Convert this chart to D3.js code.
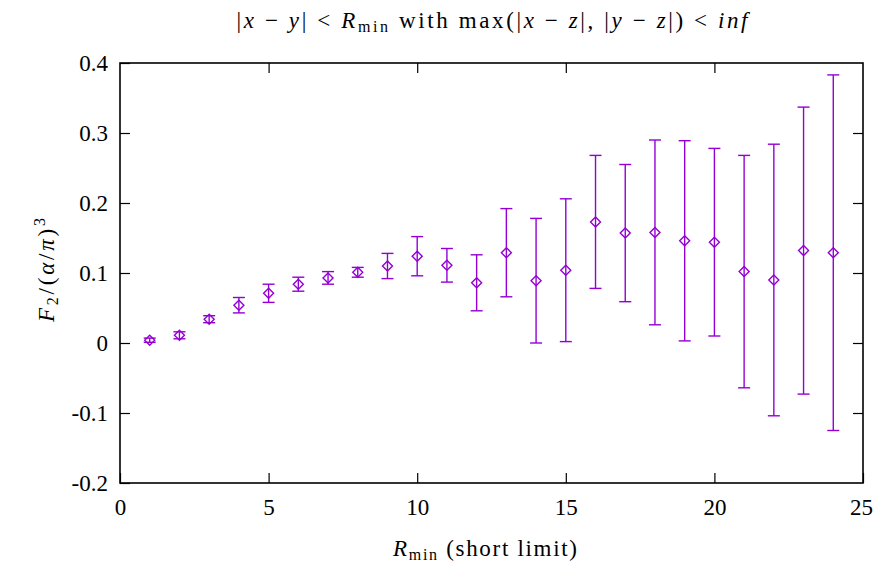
<!DOCTYPE html>
<html>
<head>
<meta charset="utf-8">
<script src="https://cdn.jsdelivr.net/npm/d3@7"></script>
<style>
  body { margin: 0; background: #fff; }
  svg { display: block; font-family: "Liberation Serif", "DejaVu Serif", serif; }
</style>
</head>
<body>
<svg id="chart" width="873" height="566"></svg>
<script>
const rmin = [1, 2, 3, 4, 5, 6, 7, 8, 9, 10, 11, 12, 13, 14, 15, 16, 17, 18, 19, 20, 21, 22, 23, 24]
const f2 = [0.004, 0.011, 0.034, 0.054, 0.071, 0.084, 0.093, 0.101, 0.110, 0.124, 0.111, 0.086,
  0.129, 0.089, 0.104, 0.173, 0.157, 0.158, 0.146, 0.144, 0.102, 0.090, 0.132, 0.129]
const f2err = [0.003, 0.005, 0.005, 0.011, 0.013, 0.010, 0.009, 0.007, 0.018, 0.028, 0.024, 0.040,
  0.063, 0.089, 0.102, 0.095, 0.098, 0.132, 0.143, 0.134, 0.166, 0.194, 0.205, 0.254]
const xTicks = [0, 5, 10, 15, 20, 25]
const yTicks = [-0.2, -0.1, 0, 0.1, 0.2, 0.3, 0.4]

const color = "#9400d3"
const svg = d3.select("#chart")
const m = {left: 120, right: 10, top: 63, bottom: 83}
const W = 873, H = 566
const iw = W - m.left - m.right
const ih = H - m.top - m.bottom
const fs = 23
const sp = "\u2005" // medium math space around operators

const x = d3.scaleLinear().domain([0, 25]).range([0, iw])
const y = d3.scaleLinear().domain([-0.2, 0.4]).range([ih, 0])

const root = svg.append("g").attr("transform", `translate(${m.left},${m.top})`)

const fmt = (v) => (Math.abs(v) < 1e-9 ? "0" : d3.format(".1f")(v).replace("−", "-"))
const tickLen = 10

// axes: inward ticks, mirrored
const axB = root.append("g").attr("transform", `translate(0,${ih})`)
  .call(d3.axisBottom(x).tickValues(xTicks).tickSize(-tickLen).tickPadding(16).tickFormat(d3.format("d")))
const axT = root.append("g")
  .call(d3.axisTop(x).tickValues(xTicks.slice(1, -1)).tickSize(-tickLen).tickFormat(""))
const axL = root.append("g")
  .call(d3.axisLeft(y).tickValues(yTicks).tickSize(-tickLen).tickPadding(12).tickFormat(fmt))
const axR = root.append("g").attr("transform", `translate(${iw},0)`)
  .call(d3.axisRight(y).tickValues(yTicks.slice(1, -1)).tickSize(-tickLen).tickFormat(""))

for (const ax of [axB, axT, axL, axR]) {
  ax.select(".domain").remove()
  ax.selectAll("line").attr("stroke", "#000").attr("stroke-width", 1.2)
  ax.selectAll("text").attr("font-size", fs).attr("fill", "#000")
    .attr("font-family", "Liberation Serif, DejaVu Serif, serif")
}
axB.selectAll("text").attr("dy", "0.71em")
axB.selectAll(".tick text").filter((d) => d === 25).attr("dx", -2)

root.append("rect")
  .attr("x", 0).attr("y", 0).attr("width", iw).attr("height", ih)
  .attr("fill", "none").attr("stroke", "#000").attr("stroke-width", 1.6)

// error bars
const cap = 6
const pts = root.append("g").selectAll("g").data(rmin).join("g")
pts.append("line")
  .attr("x1", (d) => x(d)).attr("x2", (d) => x(d))
  .attr("y1", (d, i) => y(f2[i] - f2err[i])).attr("y2", (d, i) => y(f2[i] + f2err[i]))
  .attr("stroke", color).attr("stroke-width", 1.4)
for (const sgn of [-1, 1]) {
  pts.append("line")
    .attr("x1", (d) => x(d) - cap).attr("x2", (d) => x(d) + cap)
    .attr("y1", (d, i) => y(f2[i] + sgn * f2err[i])).attr("y2", (d, i) => y(f2[i] + sgn * f2err[i]))
    .attr("stroke", color).attr("stroke-width", 1.4)
}
const s = 5
pts.append("path")
  .attr("d", (d, i) => {
    const cx = x(d), cy = y(f2[i])
    return `M${cx},${cy - s}L${cx + s},${cy}L${cx},${cy + s}L${cx - s},${cy}Z`
  })
  .attr("fill", "none").attr("stroke", color).attr("stroke-width", 1.4)

// title
const title = svg.append("text").attr("x", 492).attr("y", 28).attr("text-anchor", "middle")
  .attr("font-size", fs).attr("fill", "#000")
  .attr("textLength", 511).attr("lengthAdjust", "spacing")
title.append("tspan").text("|")
title.append("tspan").attr("font-style", "italic").text("x")
title.append("tspan").text(`${sp}−${sp}`)
title.append("tspan").attr("font-style", "italic").text("y")
title.append("tspan").text(`|${sp}<${sp}`)
title.append("tspan").attr("font-style", "italic").text("R")
title.append("tspan").attr("font-size", 16).attr("dy", 4).text("min")
title.append("tspan").attr("dy", -4).text(" with max(|")
title.append("tspan").attr("font-style", "italic").text("x")
title.append("tspan").text(`${sp}−${sp}`)
title.append("tspan").attr("font-style", "italic").text("z")
title.append("tspan").text("|, |")
title.append("tspan").attr("font-style", "italic").text("y")
title.append("tspan").text(`${sp}−${sp}`)
title.append("tspan").attr("font-style", "italic").text("z")
title.append("tspan").text(`|)${sp}<${sp}`)
title.append("tspan").attr("font-style", "italic").text("inf")

// x label
const xl = svg.append("text").attr("x", 485).attr("y", 556).attr("text-anchor", "middle")
  .attr("font-size", fs).attr("fill", "#000")
  .attr("textLength", 184).attr("lengthAdjust", "spacing")
xl.append("tspan").attr("font-style", "italic").text("R")
xl.append("tspan").attr("font-size", 16).attr("dy", 4).text("min")
xl.append("tspan").attr("dy", -4).text(" (short limit)")

// y label
const yl = svg.append("text").attr("transform", `translate(54,270) rotate(-90)`)
  .attr("text-anchor", "middle").attr("font-size", fs).attr("fill", "#000")
  .attr("textLength", 104).attr("lengthAdjust", "spacing")
yl.append("tspan").attr("font-style", "italic").text("F")
yl.append("tspan").attr("font-size", 16).attr("dy", 4).text("2")
yl.append("tspan").attr("dy", -4).text("/(")
yl.append("tspan").attr("font-style", "italic").text("α")
yl.append("tspan").text("/")
yl.append("tspan").attr("font-style", "italic").text("π")
yl.append("tspan").text(")")
yl.append("tspan").attr("font-size", 16).attr("dy", -9).text("3")
</script>
</body>
</html>
